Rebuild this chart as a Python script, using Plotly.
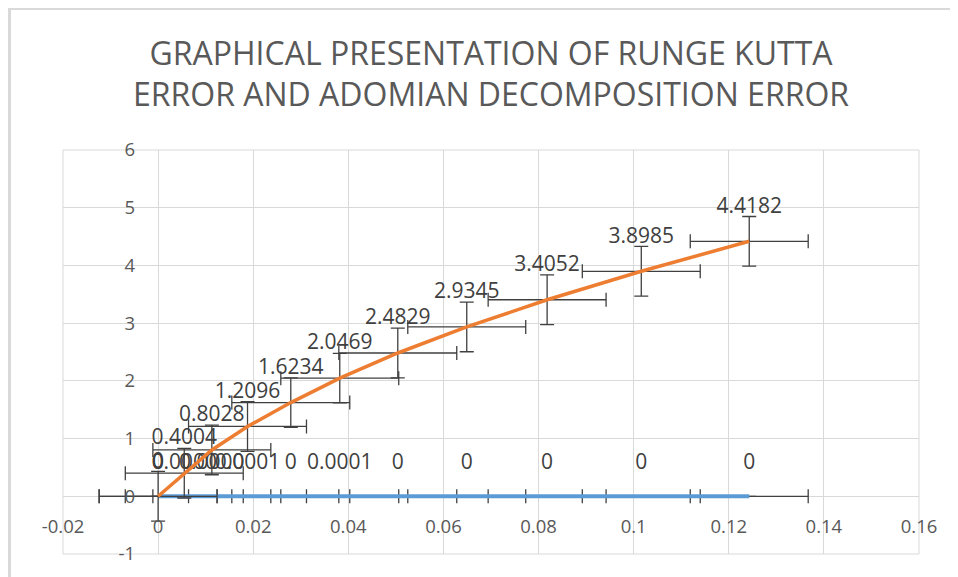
import plotly.graph_objects as go

# ---- data ----
x_values = [0, 0.0055, 0.0113, 0.0188, 0.0279, 0.0382, 0.0504, 0.0649, 0.0818, 0.1016, 0.1243]
runge_kutta_error = [0, 0.0000, 0.0000, 0.0001, 0, 0.0001, 0, 0, 0, 0, 0]
runge_kutta_labels = ["0", "0.0000", "0.0000", "0.0001", "0", "0.0001", "0", "0", "0", "0", "0"]
adomian_error = [0, 0.4004, 0.8028, 1.2096, 1.6234, 2.0469, 2.4829, 2.9345, 3.4052, 3.8985, 4.4182]
adomian_labels = ["0", "0.4004", "0.8028", "1.2096", "1.6234", "2.0469", "2.4829", "2.9345", "3.4052", "3.8985", "4.4182"]

x_err = 0.0124
adomian_y_err = 0.43
rk_y_err = 0.00003

x_ticks = [-0.02, 0, 0.02, 0.04, 0.06, 0.08, 0.1, 0.12, 0.14, 0.16]
x_tick_labels = ["-0.02", "0", "0.02", "0.04", "0.06", "0.08", "0.1", "0.12", "0.14", "0.16"]
y_ticks = [-1, 0, 1, 2, 3, 4, 5, 6]
y_tick_labels = ["-1", "0", "1", "2", "3", "4", "5", "6"]

title_text = "GRAPHICAL PRESENTATION OF RUNGE KUTTA<br>ERROR AND ADOMIAN DECOMPOSITION ERROR"

# ---- layout constants (figure is offset 8px by the page body margin) ----
W, H = 950, 569
ML, MR, MT, MB = 55, 39, 142, 23
X_RANGE = [-0.02, 0.16]
Y_RANGE = [-1, 6]
FONT = "Open Sans"
ERR_COLOR = "#404040"

fig = go.Figure()

fig.add_trace(go.Scatter(
    x=x_values, y=runge_kutta_error, text=runge_kutta_labels,
    mode="lines+markers+text", textposition="top center",
    line=dict(color="#5B9BD5", width=4),
    marker=dict(size=34, color="rgba(0,0,0,0)"),
    textfont=dict(family=FONT, size=21, color="#404040"),
    error_x=dict(type="constant", value=x_err, color=ERR_COLOR, thickness=1.3, width=7),
    error_y=dict(type="constant", value=rk_y_err, color=ERR_COLOR, thickness=1.3, width=7),
    name="Runge Kutta error", showlegend=False, cliponaxis=False,
))

fig.add_trace(go.Scatter(
    x=x_values, y=adomian_error, text=adomian_labels,
    mode="lines+markers+text", textposition="top center",
    line=dict(color="#ED7D31", width=3.5),
    marker=dict(size=36, color="rgba(0,0,0,0)"),
    textfont=dict(family=FONT, size=21, color="#404040"),
    error_x=dict(type="constant", value=x_err, color=ERR_COLOR, thickness=1.3, width=7),
    error_y=dict(type="constant", value=adomian_y_err, color=ERR_COLOR, thickness=1.3, width=7),
    name="Adomian decomposition error", showlegend=False, cliponaxis=False,
))

pos_x_axis = (0 - Y_RANGE[0]) / (Y_RANGE[1] - Y_RANGE[0])
pos_y_axis = (0 - X_RANGE[0]) / (X_RANGE[1] - X_RANGE[0])

plot_w = W - ML - MR
plot_h = H - MT - MB

def px_to_paper_x(px):
    return (px - ML) / plot_w

def px_to_paper_y(py):
    return (H - MB - py) / plot_h

fig.update_layout(
    width=W, height=H,
    margin=dict(l=ML, r=MR, t=MT, b=MB, autoexpand=False),
    paper_bgcolor="white", plot_bgcolor="white",
    title=dict(text=title_text, x=0.5, xref="paper", xanchor="center",
               y=1 - 56.5 / H, yref="container", yanchor="middle",
               font=dict(family=FONT, size=32, color="#595959")),
    xaxis=dict(range=X_RANGE, tickvals=x_ticks, ticktext=x_tick_labels,
               showgrid=True, gridcolor="#d9d9d9", gridwidth=1,
               zeroline=True, zerolinecolor="#d9d9d9", zerolinewidth=1,
               showline=False, ticks="", anchor="free", position=pos_x_axis,
               ticklabelstandoff=17,
               tickfont=dict(family=FONT, size=18.5, color="#595959")),
    yaxis=dict(range=Y_RANGE, tickvals=y_ticks, ticktext=y_tick_labels,
               showgrid=True, gridcolor="#d9d9d9", gridwidth=1,
               zeroline=True, zerolinecolor="#d9d9d9", zerolinewidth=1,
               showline=False, ticks="", anchor="free", position=pos_y_axis,
               ticklabelstandoff=23,
               tickfont=dict(family=FONT, size=18.5, color="#595959")),
    shapes=[
        dict(type="rect", xref="paper", yref="paper", x0=0, x1=1, y0=0, y1=1,
             line=dict(color="#d9d9d9", width=1), layer="below"),
        dict(type="line", xref="paper", yref="paper",
             x0=px_to_paper_x(1.5), x1=px_to_paper_x(1.5),
             y0=px_to_paper_y(0), y1=px_to_paper_y(H + 5),
             line=dict(color="#d9d9d9", width=3)),
        dict(type="line", xref="paper", yref="paper",
             x0=px_to_paper_x(0), x1=px_to_paper_x(W + 5),
             y0=px_to_paper_y(1), y1=px_to_paper_y(1),
             line=dict(color="#d9d9d9", width=2)),
    ],
)

fig.write_html("out.html")
